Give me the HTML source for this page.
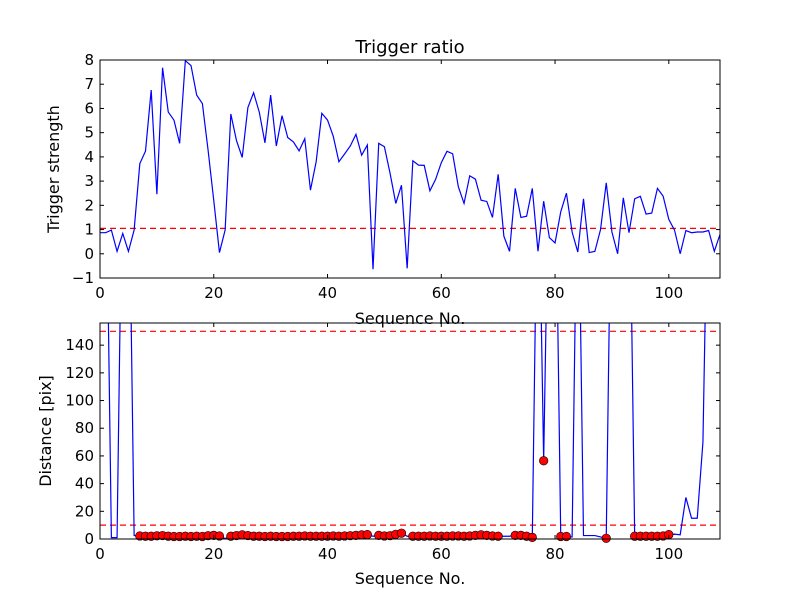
<!DOCTYPE html>
<html><head><meta charset="utf-8"><style>
html,body{margin:0;padding:0;background:#fff;}
svg text{font-family:"DejaVu Sans","Liberation Sans",sans-serif;fill:#000;}
</style></head><body>
<svg id="chart" width="800" height="600" xmlns="http://www.w3.org/2000/svg"></svg>
<script>
const trigger = [0.87,0.87,0.98,0.1,0.84,0.1,0.98,3.72,4.24,6.76,2.46,7.68,5.85,5.52,4.56,7.97,7.77,6.55,6.2,4.28,2.2,0.05,0.98,5.77,4.67,3.98,6.04,6.65,5.85,4.58,6.55,4.45,5.7,4.8,4.62,4.25,4.75,2.63,3.8,5.8,5.52,4.86,3.8,4.12,4.45,4.93,4.07,4.49,-0.64,4.56,4.42,3.32,2.08,2.83,-0.6,3.84,3.66,3.65,2.6,3.07,3.76,4.23,4.13,2.77,2.08,3.22,3.08,2.21,2.16,1.5,3.28,0.73,0.1,2.7,1.5,1.55,2.7,0.1,2.17,0.67,0.45,1.73,2.5,0.9,0.07,2.27,0.05,0.1,1.0,2.93,0.9,0.0,2.31,0.87,2.27,2.37,1.64,1.68,2.7,2.38,1.42,0.98,0.0,0.96,0.87,0.9,0.9,0.96,0.1,0.8];
const distance = [300,300,1,1,300,300,2.5,2.2,2,2,2.3,2.5,2,1.8,1.8,2,1.8,2,1.8,2.4,2.6,2.2,0.3,2,2.5,3,2.5,2,2,1.8,2,1.8,1.8,1.8,2,2,2.2,2,2,2,2,2.2,2,2.2,2.4,2.6,3,3.2,2,2.6,2.2,2.4,3.4,4.2,2,2,2,2,2.2,2,2,2,2.2,2.2,2,2.2,2.6,3,2.6,2.2,2,2,2,2.6,2.6,2,1.2,300,56.5,300,300,1.8,1.8,1.5,300,2.5,2.5,2.5,1.5,0.5,300,300,300,300,2,2,2,2,2,2.2,3.2,3.5,3,30,15,15,70,300,300,300];
const noMarker = [0,1,2,3,4,5,6,22,48,54,71,72,83,85,86,87,88,101,102,103,104,105,106];
const threshTop = 1.05;
const threshDist = [150,10];
const xTicks = [0,20,40,60,80,100];
const yTicksTop = [-1,0,1,2,3,4,5,6,7,8];
const yTicksBot = [0,20,40,60,80,100,120,140];

const NS="http://www.w3.org/2000/svg";
const svg=document.getElementById('chart');
function el(tag,attrs,parent){const e=document.createElementNS(NS,tag);for(const k in attrs)e.setAttribute(k,attrs[k]);(parent||svg).appendChild(e);return e;}
const L=100,R=720,XMAX=109;
const sx=v=>L+v*(R-L)/XMAX;
const topP={y0:60,y1:278,min:-1,max:8}, botP={y0:323,y1:539,min:0,max:156};
const syT=v=>topP.y1-(v-topP.min)*(topP.y1-topP.y0)/(topP.max-topP.min);
const syB=v=>botP.y1-(v-botP.min)*(botP.y1-botP.y0)/(botP.max-botP.min);

const defs=el('defs',{});
const cp=el('clipPath',{id:'clipB'},defs);el('rect',{x:L,y:botP.y0,width:R-L,height:botP.y1-botP.y0},cp);
const cp2=el('clipPath',{id:'clipT'},defs);el('rect',{x:L,y:topP.y0,width:R-L,height:topP.y1-topP.y0},cp2);

function axes(p,sy,yTicks,name){
  const g=el('g',{});
  
  
  xTicks.forEach(t=>{const x=sx(t);
    el('line',{x1:x,x2:x,y1:p.y1,y2:p.y1-4,stroke:'#000'},g);
    el('line',{x1:x,x2:x,y1:p.y0,y2:p.y0+4,stroke:'#000'},g);
    const tx=el('text',{x:x,y:p.y1+20,'text-anchor':'middle','font-size':'15'},g);tx.textContent=t;
    
    
  });
  yTicks.forEach(t=>{const y=sy(t);
    el('line',{x1:L,x2:L+4,y1:y,y2:y,stroke:'#000'},g);
    el('line',{x1:R,x2:R-4,y1:y,y2:y,stroke:'#000'},g);
    const tx=el('text',{x:L-6,y:y+5,'text-anchor':'end','font-size':'15'},g);tx.textContent=(t<0?'\u2212'+(-t):t);
    
    
  });
}
// top plot
const th=el('line',{x1:L,x2:R,y1:syT(threshTop),y2:syT(threshTop),stroke:'#f00','stroke-dasharray':'6,4','stroke-width':1.2});


const tl=trigger.map((v,i)=>sx(i)+','+syT(v)).join(' ');
const p1=el('polyline',{points:tl,fill:'none',stroke:'#00f','stroke-width':1.2,'clip-path':'url(#clipT)'});


axes(topP,syT,yTicksTop,'top');
const f1=el('rect',{x:L,y:topP.y0,width:R-L,height:topP.y1-topP.y0,fill:'none',stroke:'#000'});


let t=el('text',{x:410,y:53,'text-anchor':'middle','font-size':'18'});t.textContent='Trigger ratio';


t=el('text',{x:410,y:324,'text-anchor':'middle','font-size':'16'});t.textContent='Sequence No.';


t=el('text',{x:59,y:169,'text-anchor':'middle','font-size':'16',transform:'rotate(-90 59 169)'});t.textContent='Trigger strength';



// bottom plot
threshDist.forEach(v=>{const ln=el('line',{x1:L,x2:R,y1:syB(v),y2:syB(v),stroke:'#f00','stroke-dasharray':'6,4','stroke-width':1.2});
  
  });
const bl=distance.map((v,i)=>sx(i)+','+syB(v)).join(' ');
const p2=el('polyline',{points:bl,fill:'none',stroke:'#00f','stroke-width':1.2,'clip-path':'url(#clipB)'});


distance.forEach((v,i)=>{if(v>=100||noMarker.includes(i))return;
  const c=el('circle',{cx:sx(i),cy:syB(v),r:4.3,fill:'#f00',stroke:'#000','stroke-width':0.6});
  
  
});
axes(botP,syB,yTicksBot,'bottom');
const f2=el('rect',{x:L,y:botP.y0,width:R-L,height:botP.y1-botP.y0,fill:'none',stroke:'#000'});


t=el('text',{x:410,y:584,'text-anchor':'middle','font-size':'16'});t.textContent='Sequence No.';


t=el('text',{x:51,y:431,'text-anchor':'middle','font-size':'16',transform:'rotate(-90 51 431)'});t.textContent='Distance [pix]';


</script>
</body></html>
